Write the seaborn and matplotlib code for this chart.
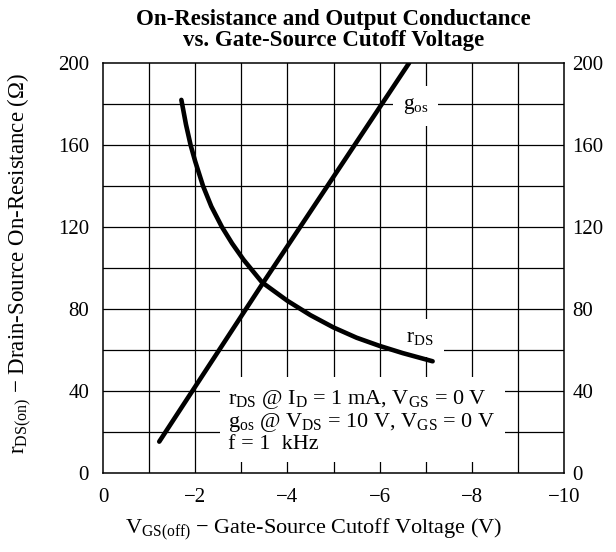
import numpy as np
import pandas as pd
import matplotlib
matplotlib.use("Agg")
import matplotlib.pyplot as plt
import seaborn as sns

# valores
vgs_rds = [-1.70, -1.80, -1.90, -2.0, -2.17, -2.35, -2.58, -2.8, -3.05, -3.45, -4.0, -4.5, -5.0, -5.5, -6.0, -6.5, -7.15]
rds = [182, 170, 160, 152, 140, 130, 120, 112, 104, 93, 84, 77, 71, 66, 62, 58.5, 54.5]

vgs_gos = [-1.22, -3.45, -6.64]
gos = [15.3, 92.0, 200]

x_ticks = [0, -2, -4, -6, -8, -10]
y_ticks = [0, 40, 80, 120, 160, 200]

sns.set_theme(style="white")
plt.rcParams['font.family'] = ['Liberation Serif', 'DejaVu Serif']
plt.rcParams['mathtext.fontset'] = 'custom'
plt.rcParams['mathtext.rm'] = 'Liberation Serif'
plt.rcParams['mathtext.it'] = 'Liberation Serif:italic'
plt.rcParams['mathtext.bf'] = 'Liberation Serif:bold'
plt.rcParams['text.color'] = 'black'
plt.rcParams['axes.labelcolor'] = 'black'
fs = 15.5

fig = plt.figure(figsize=(6.16, 5.52), dpi=100)
ax = fig.add_axes([0.1672, 0.1431, 0.9156 - 0.1672, 0.8859 - 0.1431])

# rejilla cada 1 V y cada 20 ohm
for v in range(-1, -10, -1):
    ax.axvline(v, color='black', lw=0.9, zorder=1)
for r in range(20, 200, 20):
    ax.axhline(r, color='black', lw=0.9, zorder=1)

df_rds = pd.DataFrame({'vgs': vgs_rds, 'val': rds})
df_gos = pd.DataFrame({'vgs': vgs_gos, 'val': gos})
sns.lineplot(data=df_rds, x='vgs', y='val', sort=False, estimator=None,
             color='black', lw=3.3, ax=ax, zorder=3, solid_capstyle='round')
sns.lineplot(data=df_gos, x='vgs', y='val', sort=False, estimator=None,
             color='black', lw=3.3, ax=ax, zorder=3, solid_capstyle='round')

ax.set_xlim(0, -10)
ax.set_ylim(0, 200)
ax.set_xticks(x_ticks)
ax.set_yticks(y_ticks)
ax.tick_params(axis='both', length=0, labelsize=15, colors='black')
ax.tick_params(axis='x', pad=11)
ax.tick_params(axis='y', pad=10)
for s in ax.spines.values():
    s.set_color('black')
    s.set_linewidth(1.1)

ax2 = ax.twinx()
ax2.set_ylim(0, 200)
ax2.set_yticks(y_ticks)
ax2.tick_params(axis='y', length=0, labelsize=15, pad=6, colors='black')
for s in ax2.spines.values():
    s.set_visible(False)

box = dict(boxstyle='square,pad=0.45', facecolor='white', edgecolor='none')
ax.text(-6.78, 179, 'g$_{\\rm os}$', fontsize=fs, ha='center', va='center', bbox=box, zorder=2)
ax.text(-6.88, 66, 'r$_{\\rm DS}$', fontsize=fs, ha='center', va='center', bbox=box, zorder=2)

nota = ('r$_{\\rm DS}$ @ I$_{\\rm D}$ = 1 mA, V$_{\\rm GS}$ = 0 V\n'
        'g$_{\\rm os}$ @ V$_{\\rm DS}$ = 10 V, V$_{\\rm GS}$ = 0 V\n'
        'f = 1  kHz')
ax.text(-2.72, 41.5, nota, fontsize=16, ha='left', va='top', linespacing=1.02,
        bbox=dict(boxstyle='square,pad=0.4', facecolor='white', edgecolor='none'), zorder=2)

ax.set_xlabel('V$_{\\rm GS(off)}$ − Gate-Source Cutoff Voltage (V)', fontsize=16)
ax.xaxis.set_label_coords(0.456, -0.105)
ax.set_ylabel('r$_{\\rm DS(on)}$ − Drain-Source On-Resistance (Ω)', fontsize=16.5)
ax.yaxis.set_label_coords(-0.15, 0.51)
ax.set_title('On-Resistance and Output Conductance\nvs. Gate-Source Cutoff Voltage',
             fontsize=16.5, fontweight='bold', linespacing=1.0, pad=12)

fig.savefig('out.png', dpi=100)
